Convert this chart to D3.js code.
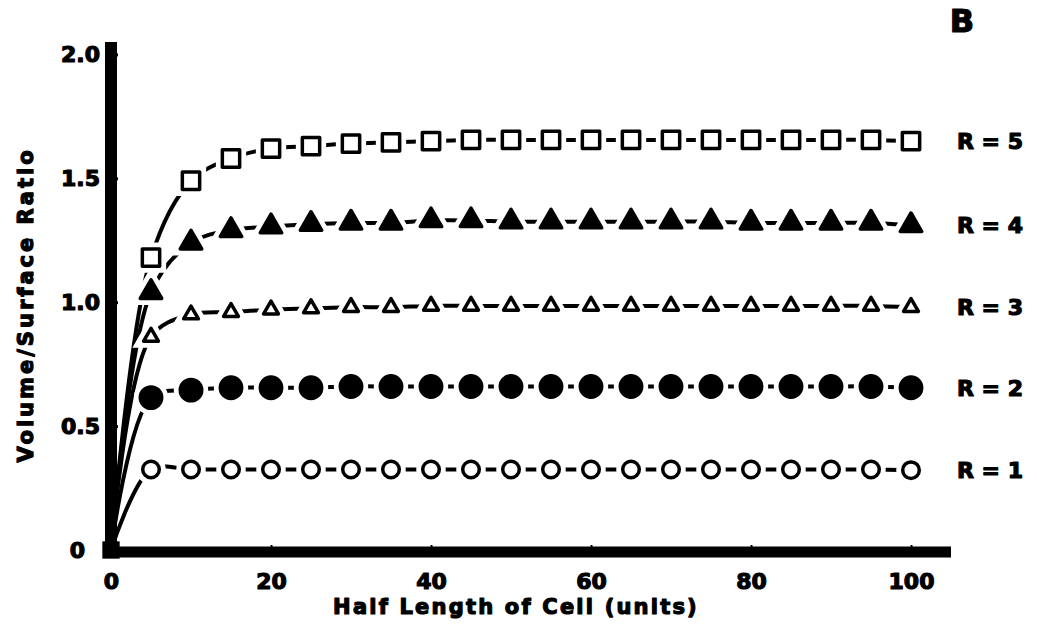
<!DOCTYPE html>
<html>
<head>
<style>
  body {
    margin: 0;
    background-color: #fff;
  }

  text {
    font-family: "DejaVu Sans", sans-serif;
    font-weight: bold;
    fill: #000;
    stroke: #000;
    stroke-width: 1.2px;
    stroke-linejoin: round;
  }
</style>
  <script src="https://d3js.org/d3.v7.min.js"></script>
</head>
<body>
<script>
// half length of cell, every 5 units (0 is the shared origin)
const halfLengths = [0, 5, 10, 15, 20, 25, 30, 35, 40, 45, 50, 55, 60, 65, 70, 75, 80, 85, 90, 95, 100];

// volume / surface ratio for each radius
const r1 = [0, 0.325, 0.325, 0.325, 0.325, 0.325, 0.325, 0.325, 0.325, 0.325, 0.325, 0.325, 0.325, 0.325, 0.325, 0.325, 0.325, 0.325, 0.325, 0.325, 0.322];
const r2 = [0, 0.615, 0.645, 0.655, 0.655, 0.655, 0.66, 0.66, 0.66, 0.66, 0.66, 0.66, 0.66, 0.66, 0.66, 0.66, 0.66, 0.66, 0.66, 0.66, 0.655];
const r3 = [0, 0.86, 0.95, 0.96, 0.97, 0.975, 0.98, 0.98, 0.985, 0.985, 0.985, 0.985, 0.985, 0.985, 0.985, 0.985, 0.985, 0.985, 0.985, 0.985, 0.98];
const r4 = [0, 1.04, 1.24, 1.29, 1.305, 1.315, 1.32, 1.32, 1.33, 1.33, 1.325, 1.325, 1.325, 1.325, 1.325, 1.325, 1.32, 1.32, 1.32, 1.32, 1.31];
const r5 = [0, 1.18, 1.49, 1.58, 1.62, 1.63, 1.64, 1.645, 1.65, 1.655, 1.655, 1.655, 1.655, 1.655, 1.655, 1.655, 1.655, 1.655, 1.655, 1.655, 1.65];

const seriesNames = ['R = 1', 'R = 2', 'R = 3', 'R = 4', 'R = 5'];
const xTicks = [0, 20, 40, 60, 80, 100];
const yTicks = [0, 0.5, 1.0, 1.5, 2.0];
const yTickLabels = ['0', '0.5', '1.0', '1.5', '2.0'];

const width = 1037;
const height = 634;

const svg = d3.select('body')
  .append('svg')
  .attr('width', width)
  .attr('height', height);

const x = d3.scaleLinear().domain([0, 105]).range([111, 951]);
const y = d3.scaleLinear().domain([0, 2.05]).range([550, 42]);

// marker look per series
const markers = [
  { type: d3.symbolCircle, size: 215, fill: '#fff' },
  { type: d3.symbolCircle, size: 360, fill: '#000' },
  { type: d3.symbolTriangle, size: 95, fill: '#fff' },
  { type: d3.symbolTriangle, size: 200, fill: '#000' },
  { type: d3.symbolSquare, size: 300, fill: '#fff' },
];

const allSeries = [r1, r2, r3, r4, r5].map((values, i) => ({
  name: seriesNames[i],
  marker: markers[i],
  points: values.map((v, j) => ({ x: halfLengths[j], y: v })),
}));

// axes
const yAxis = svg.append('g')
  .attr('transform', `translate(${x(0)},0)`)
  .call(d3.axisLeft(y)
    .tickValues(yTicks)
    .tickFormat((d, i) => yTickLabels[i])
    .tickSizeInner(-7)
    .tickSizeOuter(0)
    .tickPadding(11));

yAxis.select('.domain')
  .attr('stroke-width', 12)
  .attr('d', `M0,${y(0) + 5}V${y(2.05)}`);
yAxis.selectAll('.tick line').attr('stroke-width', 3);
yAxis.selectAll('.tick text')
  .attr('font-size', 22)
  .attr('font-family', null)
  .attr('fill', null);
// the zero label sits further out in the original
yAxis.selectAll('.tick text').filter(d => d === 0).attr('x', -26);

const xAxis = svg.append('g')
  .attr('transform', `translate(0,${y(0)})`)
  .call(d3.axisBottom(x)
    .tickValues(xTicks)
    .tickSizeInner(-5)
    .tickSizeOuter(0)
    .tickPadding(23));

xAxis.select('.domain')
  .attr('stroke-width', 11)
  .attr('d', `M${x(0) - 4},2H${x(105)}`);
xAxis.selectAll('.tick line').attr('stroke-width', 2);
xAxis.selectAll('.tick text')
  .attr('font-size', 22)
  .attr('font-family', null)
  .attr('fill', null);

// lines
const line = d3.line()
  .x(d => x(d.x))
  .y(d => y(d.y))
  .curve(d3.curveCatmullRom.alpha(0.5));

svg.append('g')
  .selectAll('path')
  .data(allSeries)
  .join('path')
  .attr('fill', 'none')
  .attr('stroke', '#000')
  .attr('stroke-width', 4)
  .attr('d', d => line(d.points));

// markers with a white halo, which leaves the gaps around each one
const markerGroups = svg.append('g')
  .selectAll('g')
  .data(allSeries)
  .join('g');

markerGroups.each(function (s) {
  const g = d3.select(this);
  const sym = d3.symbol().type(s.marker.type).size(s.marker.size);
  const pts = s.points.slice(1);

  g.selectAll('path.halo')
    .data(pts)
    .join('path')
    .attr('class', 'halo')
    .attr('transform', d => `translate(${x(d.x)},${y(d.y)})`)
    .attr('d', sym)
    .attr('fill', '#fff')
    .attr('stroke', '#fff')
    .attr('stroke-width', 13);

  g.selectAll('path.mark')
    .data(pts)
    .join('path')
    .attr('class', 'mark')
    .attr('transform', d => `translate(${x(d.x)},${y(d.y)})`)
    .attr('d', sym)
    .attr('fill', s.marker.fill)
    .attr('stroke', '#000')
    .attr('stroke-width', 3.5)
    .attr('stroke-linejoin', 'round');
});

// shared origin point
svg.append('path')
  .attr('transform', `translate(${x(0)},${y(0)})`)
  .attr('d', d3.symbol().type(d3.symbolSquare).size(300))
  .attr('fill', '#000');

// series labels at the right end
svg.append('g')
  .selectAll('text')
  .data(allSeries)
  .join('text')
  .attr('x', x(100) + 46)
  .attr('y', d => y(d.points[d.points.length - 1].y))
  .attr('dy', '0.36em')
  .attr('font-size', 22)
  .text(d => d.name);

// axis titles
svg.append('text')
  .attr('x', 516)
  .attr('y', 614)
  .attr('text-anchor', 'middle')
  .attr('font-size', 21)
  .attr('letter-spacing', 2.2)
  .text('Half Length of Cell (units)');

svg.append('text')
  .attr('transform', 'translate(33,305) rotate(-90)')
  .attr('text-anchor', 'middle')
  .attr('font-size', 21)
  .attr('letter-spacing', 3)
  .text('Volume/Surface Ratio');

svg.append('text')
  .attr('x', 962)
  .attr('y', 32)
  .attr('text-anchor', 'middle')
  .attr('font-size', 32)
  .text('B');
</script>
</body>
</html>
